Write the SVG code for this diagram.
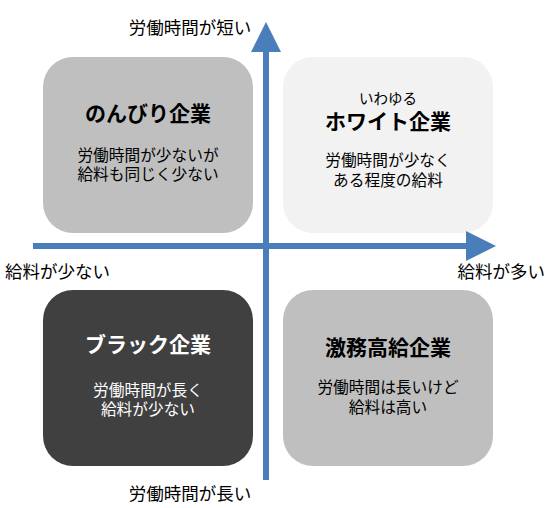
<svg xmlns="http://www.w3.org/2000/svg" width="556" height="508" viewBox="0 0 556 508">
<style>
text{font-family:"Noto Sans CJK JP","Noto Sans CJK SC",sans-serif;text-anchor:middle;}
.ax{font-size:17.5px;fill:#000;}
.t{font-size:21px;font-weight:bold;}
.b{font-size:15.7px;}
.axl{stroke:#4A7EBB;stroke-width:6;fill:none;}
</style>
<defs>
<marker id="ah" viewBox="0 0 10 10" refX="2" refY="5" markerWidth="5" markerHeight="5" orient="auto" markerUnits="strokeWidth">
<path d="M0,0 L10,5 L0,10 Z" fill="#4A7EBB"/>
</marker>
</defs>
<rect width="556" height="508" fill="#fff"/>
<g id="box-nonbiri">
<rect x="43" y="57" width="210" height="176" rx="30" fill="#BFBFBF"/>
<text class="t" x="148" y="121" fill="#000">のんびり企業</text>
<text class="b" x="148" y="161" fill="#000">労働時間が少ないが</text>
<text class="b" x="148" y="180" fill="#000">給料も同じく少ない</text>
</g>
<g id="box-white">
<rect x="283" y="57" width="210" height="176" rx="30" fill="#F2F2F2"/>
<text x="388" y="104" font-size="14.5" fill="#000">いわゆる</text>
<text class="t" x="388" y="129" fill="#000">ホワイト企業</text>
<text class="b" x="388" y="166" fill="#000">労働時間が少なく</text>
<text class="b" x="388" y="186" fill="#000">ある程度の給料</text>
</g>
<g id="box-black">
<rect x="43" y="290" width="210" height="176" rx="30" fill="#404040"/>
<text class="t" x="148" y="352" fill="#fff">ブラック企業</text>
<text class="b" x="148" y="396" fill="#fff">労働時間が長く</text>
<text class="b" x="148" y="415" fill="#fff">給料が少ない</text>
</g>
<g id="box-gekimu">
<rect x="283" y="290" width="210" height="176" rx="30" fill="#BFBFBF"/>
<text class="t" x="388" y="355" fill="#000">激務高給企業</text>
<text class="b" x="388" y="393" fill="#000">労働時間は長いけど</text>
<text class="b" x="388" y="413" fill="#000">給料は高い</text>
</g>
<g id="connectors">
<line class="axl" x1="266" y1="480" x2="266" y2="46" marker-end="url(#ah)"/>
<line class="axl" x1="33" y1="246" x2="472" y2="246" marker-end="url(#ah)"/>
</g>
<g id="labels">
<text class="ax" x="190" y="34">労働時間が短い</text>
<text class="ax" x="190" y="500">労働時間が長い</text>
<text class="ax" x="5" y="278" style="text-anchor:start">給料が少ない</text>
<text class="ax" x="545" y="278" style="text-anchor:end">給料が多い</text>
</g>
</svg>
